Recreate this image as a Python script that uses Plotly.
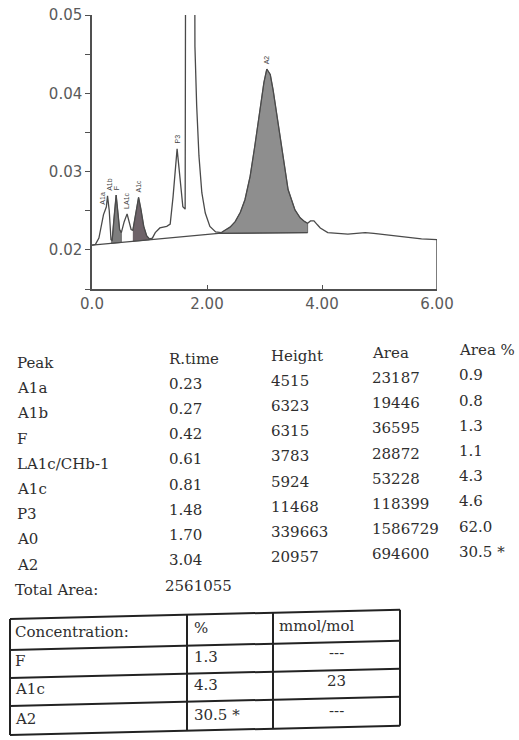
import numpy as np
import plotly.graph_objects as go

# ---- chromatogram trace: retention time (min) vs absorbance ----
time = [0.00, 0.06, 0.12, 0.16, 0.20, 0.23, 0.25, 0.27, 0.30, 0.33,
        0.35, 0.38, 0.42, 0.45, 0.48, 0.51, 0.56, 0.61, 0.65, 0.68,
        0.71, 0.76, 0.81, 0.85, 0.90, 0.95, 1.00, 1.05, 1.10, 1.18,
        1.30, 1.36, 1.41, 1.48, 1.53, 1.58, 1.62, 1.70, 1.79, 1.82,
        1.86, 1.91, 1.97, 2.05, 2.15, 2.25, 2.31, 2.40, 2.49, 2.58,
        2.66, 2.75, 2.83, 2.92, 2.99, 3.04, 3.10, 3.15, 3.24, 3.33,
        3.41, 3.53, 3.62, 3.70, 3.75, 3.80, 3.86, 3.92, 3.97, 4.10,
        4.45, 4.60, 4.75, 4.90, 5.04, 5.39, 5.73, 6.00]
absorbance = [0.0206, 0.0207, 0.0215, 0.0232, 0.0245, 0.0251, 0.0255, 0.0269, 0.0250, 0.0213,
              0.0212, 0.0238, 0.0270, 0.0248, 0.0226, 0.0222, 0.0236, 0.0246, 0.0235, 0.0226,
              0.0225, 0.0248, 0.0267, 0.0252, 0.0230, 0.0218, 0.0214, 0.0215, 0.0222, 0.0228,
              0.0230, 0.0233, 0.0268, 0.0329, 0.0293, 0.0255, 0.0252, 0.3615, 0.0460, 0.0385,
              0.0320, 0.0273, 0.0247, 0.0230, 0.0223, 0.0222, 0.0225, 0.0229, 0.0236, 0.0248,
              0.0264, 0.0294, 0.0332, 0.0379, 0.0414, 0.0431, 0.0424, 0.0404, 0.0362, 0.0315,
              0.0277, 0.0251, 0.0241, 0.0236, 0.0234, 0.0237, 0.0237, 0.0232, 0.0228, 0.0222,
              0.0220, 0.0221, 0.0222, 0.0221, 0.0220, 0.0217, 0.0214, 0.0213]

# integration baseline
base_time = [0.00, 2.20, 3.75]
base_level = [0.0206, 0.0221, 0.0222]

# ---- peak table ----
peak_names = ["A1a", "A1b", "F", "LA1c/CHb-1", "A1c", "P3", "A0", "A2"]
peak_labels = ["A1a", "A1b", "F", "LA1c", "A1c", "P3", "A0", "A2"]
peak_rtime = [0.23, 0.27, 0.42, 0.61, 0.81, 1.48, 1.70, 3.04]
peak_height = [4515, 6323, 6315, 3783, 5924, 11468, 339663, 20957]
peak_area = [23187, 19446, 36595, 28872, 53228, 118399, 1586729, 694600]
peak_area_pct = ["0.9", "0.8", "1.3", "1.1", "4.3", "4.6", "62.0", "30.5 *"]
total_area = 2561055

# ---- concentration table ----
conc_names = ["F", "A1c", "A2"]
conc_pct = ["1.3", "4.3", "30.5 *"]
conc_mmol = ["---", "23", "---"]

# integrated (shaded) peaks: start / end times
shade_names = ["F", "A1c", "A2"]
shade_start = [0.33, 0.71, 2.25]
shade_end = [0.51, 1.00, 3.75]
shade_colors = ["#7e7e7e", "#6e6369", "#8e8e8e"]

x_ticks = [0, 2, 4, 6]
x_ticktext = ["0.0", "2.00", "4.00", "6.00"]
y_ticks = [0.02, 0.03, 0.04, 0.05]
y_ticktext = ["0.02", "0.03", "0.04", "0.05"]

# ---- geometry ----
W, H = 519, 740
PX0, PX1 = 92, 437      # plot area, pixels
PY0, PY1 = 15, 289
T_RANGE = [0.0, 6.0]
A_RANGE = [0.015, 0.05]

LINE = "#4a4a4a"
AXIS = "#505050"
TEXT = "#2e2e2e"

t = np.array(time)
a = np.array(absorbance)

fig = go.Figure()

for name, t0, t1, col in zip(shade_names, shade_start, shade_end, shade_colors):
    m = (t >= t0) & (t <= t1)
    xs = list(t[m]) + [t1, t0]
    ys = list(a[m]) + [float(np.interp(t1, base_time, base_level)),
                       float(np.interp(t0, base_time, base_level))]
    fig.add_trace(go.Scatter(x=xs, y=ys, mode="lines", fill="toself",
                             fillcolor=col, line=dict(color="#555555", width=0.8),
                             hoverinfo="skip", showlegend=False, name=name))

# baseline
fig.add_trace(go.Scatter(x=base_time, y=base_level, mode="lines",
                         line=dict(color=LINE, width=1.3),
                         hoverinfo="skip", showlegend=False))
# signal
fig.add_trace(go.Scatter(x=time, y=absorbance, mode="lines",
                         line=dict(color=LINE, width=1.3),
                         hoverinfo="skip", showlegend=False))
# end of run: drop to the time axis
fig.add_trace(go.Scatter(x=[time[-1], time[-1]], y=[absorbance[-1], A_RANGE[0]],
                         mode="lines", line=dict(color=AXIS, width=1.5),
                         hoverinfo="skip", showlegend=False))

# peak labels above the apexes (rotated)
label_shift = {"A1a": -3, "A1b": 2}
for lab, rt in zip(peak_labels, peak_rtime):
    apex = float(np.interp(rt, time, absorbance))
    if apex > A_RANGE[1]:
        continue
    fig.add_annotation(x=rt, y=apex, xref="x", yref="y", text=lab,
                       textangle=-90, showarrow=False, yanchor="bottom",
                       xanchor="center", yshift=3, xshift=label_shift.get(lab, 0),
                       font=dict(family="Liberation Sans", size=7, color="#444444"))

fig.update_layout(
    width=W, height=H,
    margin=dict(l=0, r=0, t=0, b=0, autoexpand=False),
    paper_bgcolor="white", plot_bgcolor="white",
    showlegend=False,
    xaxis=dict(domain=[PX0 / W, PX1 / W], range=T_RANGE,
               showline=True, linecolor=AXIS, linewidth=1.5,
               showgrid=False, zeroline=False,
               tickvals=x_ticks, ticktext=x_ticktext,
               ticks="inside", ticklen=4, tickcolor=AXIS,
               tickfont=dict(family="DejaVu Sans", size=15, color="#5a5a5a")),
    yaxis=dict(domain=[1 - PY1 / H, 1 - PY0 / H], range=A_RANGE,
               showline=True, linecolor=AXIS, linewidth=1.5,
               showgrid=False, zeroline=False,
               tickvals=y_ticks, ticktext=y_ticktext,
               ticks="outside", ticklen=5, tickcolor=AXIS,
               minor=dict(ticks="outside", ticklen=5, tickcolor=AXIS,
                          tick0=0.015, dtick=0.005),
               tickfont=dict(family="DejaVu Sans", size=15, color="#5a5a5a")),
)

# ---- report text below the chart ----
FONT = dict(family="DejaVu Serif", size=15, color=TEXT)
TILT = 0.029   # page rows rise slightly to the right


def put(txt, px, py, anchor="left", tilt=TILT):
    y = py - tilt * (px - 15)
    fig.add_annotation(x=px / W, y=1 - y / H, xref="paper", yref="paper",
                       text=txt, showarrow=False, xanchor=anchor,
                       yanchor="middle", font=FONT)


COLS = [15, 167, 269, 370, 457]
ROW0, ROW_STEP = 363, 25.2

for txt, cx in zip(["Peak", "R.time", "Height", "Area", "Area %"], COLS):
    put(txt, cx, ROW0)

for i, name in enumerate(peak_names):
    ry = ROW0 + ROW_STEP * (i + 1)
    put(name, COLS[0], ry)
    put(f"{peak_rtime[i]:.2f}", COLS[1], ry)
    put(str(peak_height[i]), COLS[2], ry)
    put(str(peak_area[i]), COLS[3], ry)
    put(peak_area_pct[i], COLS[4], ry)

ry_total = ROW0 + ROW_STEP * (len(peak_names) + 1)
put("Total Area:", 13, ry_total)
put(str(total_area), 163, ry_total)

# concentration table
CT = 0.024
TX = [10, 187, 273, 400]
TY = [619, 650, 678, 706, 735]
for y in TY:
    fig.add_shape(type="line", xref="paper", yref="paper",
                  x0=TX[0] / W, x1=TX[-1] / W,
                  y0=1 - y / H, y1=1 - (y - CT * (TX[-1] - TX[0])) / H,
                  line=dict(color="#222222", width=2))
for x in TX:
    d = CT * (x - TX[0])
    fig.add_shape(type="line", xref="paper", yref="paper",
                  x0=x / W, x1=x / W,
                  y0=1 - (TY[0] - d) / H, y1=1 - (TY[-1] - d) / H,
                  line=dict(color="#222222", width=2))


def put_c(txt, px, py, anchor="left"):
    y = py - CT * (px - 10)
    fig.add_annotation(x=px / W, y=1 - y / H, xref="paper", yref="paper",
                       text=txt, showarrow=False, xanchor=anchor,
                       yanchor="middle", font=FONT)


CROWS = [632, 661, 689, 719]
put_c("Concentration:", 13, CROWS[0])
put_c("%", 192, CROWS[0])
put_c("mmol/mol", 277, CROWS[0])
for i, name in enumerate(conc_names):
    ry = CROWS[i + 1]
    put_c(name, 13, ry)
    put_c(conc_pct[i], 192, ry)
    put_c(conc_mmol[i], 336, ry, anchor="center")

fig.write_html("out.html")
